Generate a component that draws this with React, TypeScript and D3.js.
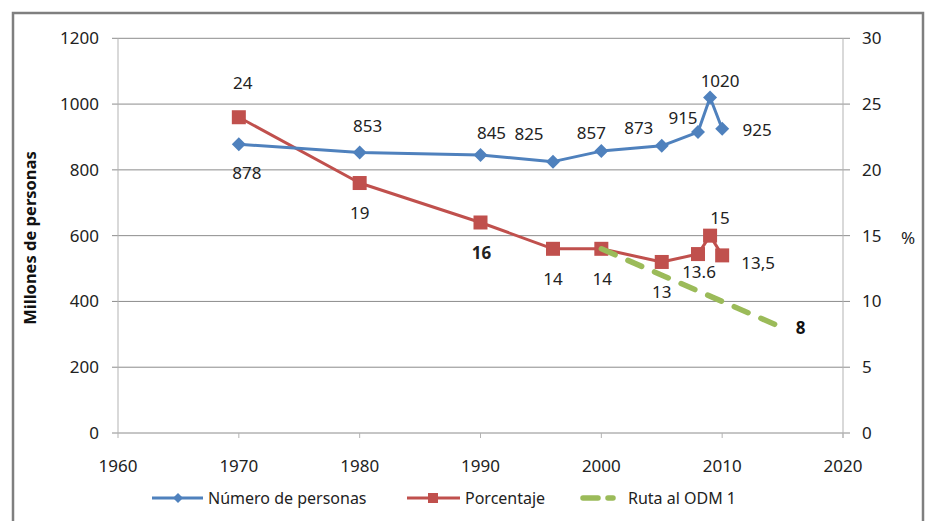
import React from "react";
import * as d3 from "d3";

// ---- data ----
const years = [1970, 1980, 1990, 1996, 2000, 2005, 2008, 2009, 2010];
const personas = [878, 853, 845, 825, 857, 873, 915, 1020, 925];
const porcentaje = [24, 19, 16, 14, 14, 13, 13.6, 15, 13.5];
const personasLabels = ["878", "853", "845", "825", "857", "873", "915", "1020", "925"];
const porcentajeLabels = ["24", "19", "16", "14", "14", "13", "13.6", "15", "13,5"];
const porcentajeBold = [false, false, true, false, false, false, false, false, false];
const rutaYears = [2000, 2015];
const rutaValues = [14, 8];
const rutaLabels = ["", "8"];
const xTicks = [1960, 1970, 1980, 1990, 2000, 2010, 2020];
const leftTicks = [0, 200, 400, 600, 800, 1000, 1200];
const rightTicks = [0, 5, 10, 15, 20, 25, 30];
const seriesNames = ["Número de personas", "Porcentaje", "Ruta al ODM 1"];

// label offsets (dx, dy) relative to marker
const personasOffsets: [number, number][] = [
  [8, 29], [8, -26], [11, -22], [-24, -28], [-10, -18], [-23, -18], [-15, -14], [10, -16], [35, 1],
];
const porcentajeOffsets: [number, number][] = [
  [4, -34], [0, 30], [1, 31], [0, 30], [1, 30], [0, 30], [1, 18], [10, -18], [36, 8],
];
const rutaOffsets: [number, number][] = [[0, 0], [18, 0]];

const BLUE = "#4f81bd";
const RED = "#c0504d";
const GREEN = "#9bbb59";
const FONT = "'Noto Sans', 'Open Sans', sans-serif";

export default function App() {
  const W = 927, H = 521;
  const left = 118, right = 843, top = 38.3, bottom = 433;
  const x = d3.scaleLinear().domain([1960, 2020]).range([left, right]);
  const yL = d3.scaleLinear().domain([0, 1200]).range([bottom, top]);
  const yR = d3.scaleLinear().domain([0, 30]).range([bottom, top]);

  const lineL = d3.line<number>().x((_, i) => x(years[i])).y((d) => yL(d));
  const lineR = d3.line<number>().x((_, i) => x(years[i])).y((d) => yR(d));
  const lineRuta = d3.line<number>().x((_, i) => x(rutaYears[i])).y((d) => yR(d));

  const diamond = (cx: number, cy: number, r: number) =>
    `M${cx},${cy - r}L${cx + r},${cy}L${cx},${cy + r}L${cx - r},${cy}Z`;

  const legendY = 498;

  return (
    <svg
      width={W}
      height={H}
      style={{ position: "absolute", left: 0, top: 0, background: "#fff" }}
      fontFamily={FONT}
    >
      <rect x={0} y={0} width={W} height={H} fill="#fff" />
      {/* outer border */}
      <rect x={13} y={13} width={910} height={530} fill="none" stroke="#7f7f7f" strokeWidth={2.5} />

      {/* gridlines */}
      {leftTicks.map((t) => (
        <line key={"g" + t} x1={left - 6} x2={right + 7} y1={yL(t)} y2={yL(t)} stroke="#8c8c8c" strokeWidth={1} />
      ))}
      {/* axis lines */}
      <line x1={left} x2={left} y1={top} y2={bottom} stroke="#b3b3b3" strokeWidth={1} />
      <line x1={right} x2={right} y1={top} y2={bottom + 5} stroke="#b3b3b3" strokeWidth={1} />
      {xTicks.map((t) => (
        <line key={"xt" + t} x1={x(t)} x2={x(t)} y1={bottom} y2={bottom + 5} stroke="#b3b3b3" strokeWidth={1} />
      ))}

      {/* tick labels */}
      {leftTicks.map((t) => (
        <text key={"lt" + t} x={99} y={yL(t)} dy="0.35em" textAnchor="end" fontSize={17} fill="#222">
          {t}
        </text>
      ))}
      {rightTicks.map((t) => (
        <text key={"rt" + t} x={862} y={yR(t)} dy="0.35em" textAnchor="start" fontSize={17} fill="#222">
          {t}
        </text>
      ))}
      {xTicks.map((t) => (
        <text key={"xl" + t} x={x(t)} y={472} textAnchor="middle" fontSize={17} fill="#222">
          {t}
        </text>
      ))}

      {/* axis titles */}
      <text
        transform={`translate(30,238) rotate(-90)`}
        textAnchor="middle"
        dy="0.35em"
        fontSize={16.5}
        fontWeight="bold"
        fill="#111"
      >
        Millones de personas
      </text>
      <text x={908} y={238} dy="0.35em" textAnchor="middle" fontSize={17} fill="#222">
        %
      </text>

      {/* series: porcentaje */}
      <path d={lineR(porcentaje) || ""} fill="none" stroke={RED} strokeWidth={3} strokeLinejoin="round" />
      {porcentaje.map((v, i) => (
        <rect key={"sq" + i} x={x(years[i]) - 7} y={yR(v) - 7} width={14} height={14} fill={RED} />
      ))}

      {/* series: ruta */}
      <path
        d={lineRuta(rutaValues) || ""}
        fill="none"
        stroke={GREEN}
        strokeWidth={5.5}
        strokeLinecap="round"
        strokeDasharray="15 14"
      />

      {/* series: personas */}
      <path d={lineL(personas) || ""} fill="none" stroke={BLUE} strokeWidth={3} strokeLinejoin="round" />
      {personas.map((v, i) => (
        <path key={"dm" + i} d={diamond(x(years[i]), yL(v), 7)} fill={BLUE} />
      ))}

      {/* data labels */}
      {personas.map((v, i) => (
        <text
          key={"pl" + i}
          x={x(years[i]) + personasOffsets[i][0]}
          y={yL(v) + personasOffsets[i][1]}
          dy="0.35em"
          textAnchor="middle"
          fontSize={17}
          fill="#222"
        >
          {personasLabels[i]}
        </text>
      ))}
      {porcentaje.map((v, i) => (
        <text
          key={"rl" + i}
          x={x(years[i]) + porcentajeOffsets[i][0]}
          y={yR(v) + porcentajeOffsets[i][1]}
          dy="0.35em"
          textAnchor="middle"
          fontSize={17}
          fontWeight={porcentajeBold[i] ? "bold" : "normal"}
          fill="#222"
        >
          {porcentajeLabels[i]}
        </text>
      ))}
      {rutaValues.map((v, i) =>
        rutaLabels[i] ? (
          <text
            key={"gl" + i}
            x={x(rutaYears[i]) + rutaOffsets[i][0]}
            y={yR(v) + rutaOffsets[i][1]}
            dy="0.35em"
            textAnchor="middle"
            fontSize={17}
            fontWeight="bold"
            fill="#111"
          >
            {rutaLabels[i]}
          </text>
        ) : null
      )}

      {/* legend */}
      <g fontSize={16} fill="#222">
        <line x1={152} x2={203} y1={legendY} y2={legendY} stroke={BLUE} strokeWidth={3} />
        <path d={diamond(178, legendY, 5)} fill={BLUE} />
        <text x={208} y={legendY} dy="0.35em">{seriesNames[0]}</text>

        <line x1={407} x2={460} y1={legendY} y2={legendY} stroke={RED} strokeWidth={3} />
        <rect x={428} y={legendY - 5} width={10} height={10} fill={RED} />
        <text x={465} y={legendY} dy="0.35em">{seriesNames[1]}</text>

        <line
          x1={583}
          x2={613}
          y1={legendY}
          y2={legendY}
          stroke={GREEN}
          strokeWidth={5.5}
          strokeLinecap="round"
          strokeDasharray="15 10"
        />
        <text x={628} y={legendY} dy="0.35em">{seriesNames[2]}</text>
      </g>
    </svg>
  );
}
